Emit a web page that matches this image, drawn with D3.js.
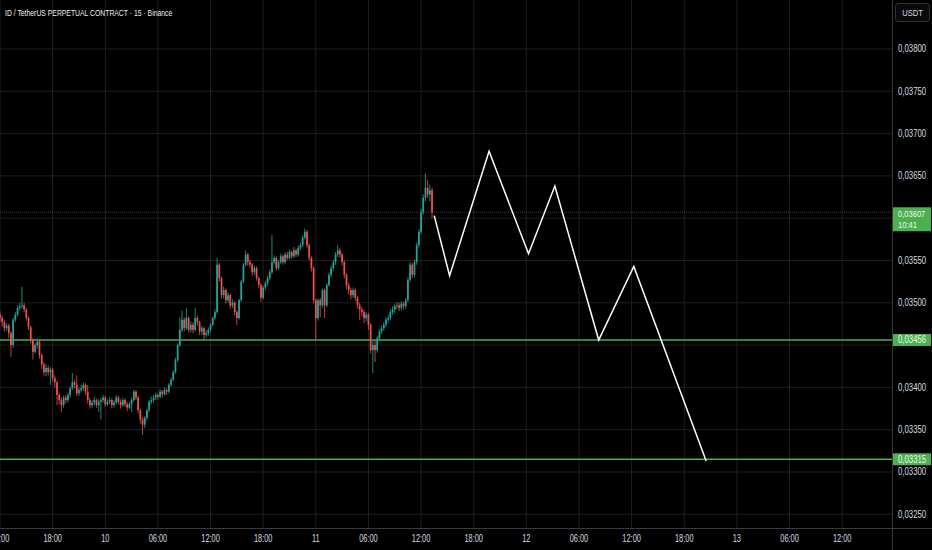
<!DOCTYPE html>
<html>
<head>
<meta charset="utf-8">
<script src="https://cdn.jsdelivr.net/npm/d3@7"></script>
<style>
  html, body { margin: 0; padding: 0; background: #000; overflow: hidden; }
  text { font-family: "Liberation Sans", Arial, sans-serif; }
</style>
</head>
<body>
<script>
var width = 932;
var height = 550;
var plotRight = 892;
var plotBottom = 528;

// prices are in units of 0.00001 USDT (3607 = 0.03607)
var title = "ID / TetherUS PERPETUAL CONTRACT \u00b7 15 \u00b7 Binance";
var firstBar = "2024-01-09 12:00";
var barMinutes = 15;
var firstOpen = 3486;

var closes = [
  3482, 3477, 3470, 3473, 3464, 3450, 3480, 3486, 3494, 3496,
  3497, 3492, 3482, 3471, 3456, 3442, 3450, 3454, 3438, 3427,
  3418, 3423, 3418, 3421, 3411, 3406, 3391, 3385, 3379, 3388,
  3385, 3391, 3399, 3406, 3403, 3393, 3397, 3399, 3403, 3395,
  3385, 3379, 3382, 3385, 3379, 3383, 3385, 3388, 3380, 3383,
  3385, 3379, 3382, 3388, 3383, 3379, 3385, 3380, 3376, 3380,
  3385, 3395, 3388, 3373, 3362, 3356, 3364, 3373, 3383, 3385,
  3388, 3391, 3389, 3395, 3392, 3397, 3395, 3403, 3409, 3418,
  3432, 3450, 3468, 3480, 3470, 3482, 3468, 3474, 3468, 3482,
  3477, 3466, 3470, 3462, 3464, 3468, 3474, 3482, 3489, 3545,
  3529, 3509, 3515, 3503, 3509, 3497, 3500, 3489, 3482, 3503,
  3525, 3545, 3557, 3548, 3545, 3536, 3541, 3529, 3521, 3506,
  3518, 3523, 3529, 3536, 3548, 3553, 3541, 3548, 3555, 3548,
  3557, 3553, 3560, 3555, 3562, 3557, 3565, 3568, 3577, 3584,
  3568, 3553, 3541, 3503, 3482, 3503, 3497, 3515, 3497, 3521,
  3533, 3541, 3548, 3557, 3562, 3557, 3548, 3533, 3521, 3515,
  3509, 3515, 3506, 3497, 3492, 3489, 3482, 3486, 3474, 3444,
  3450, 3444, 3458, 3466, 3470, 3474, 3480, 3482, 3489, 3492,
  3496, 3497, 3494, 3499, 3496, 3503, 3527, 3545, 3533, 3548,
  3568, 3584, 3607, 3624, 3636, 3628, 3633, 3607
];

var highs = [
  3490, 3485, 3480, 3476, 3475, 3466, 3482, 3489, 3497, 3500,
  3519, 3500, 3494, 3484, 3473, 3458, 3452, 3458, 3456, 3440,
  3430, 3428, 3426, 3424, 3423, 3414, 3408, 3394, 3388, 3390,
  3391, 3394, 3401, 3417, 3409, 3414, 3400, 3403, 3406, 3405,
  3403, 3388, 3385, 3389, 3387, 3386, 3388, 3391, 3390, 3386,
  3389, 3387, 3385, 3391, 3390, 3386, 3388, 3387, 3383, 3383,
  3388, 3397, 3397, 3390, 3375, 3365, 3366, 3375, 3385, 3389,
  3391, 3394, 3393, 3398, 3397, 3400, 3399, 3405, 3412, 3420,
  3435, 3452, 3483, 3491, 3483, 3494, 3484, 3478, 3477, 3494,
  3485, 3479, 3473, 3472, 3468, 3471, 3476, 3484, 3492, 3553,
  3547, 3531, 3519, 3517, 3512, 3511, 3504, 3502, 3491, 3505,
  3527, 3547, 3562, 3559, 3551, 3547, 3544, 3543, 3531, 3523,
  3520, 3526, 3532, 3539, 3580, 3556, 3555, 3551, 3558, 3557,
  3560, 3560, 3563, 3562, 3566, 3564, 3568, 3571, 3580, 3588,
  3586, 3570, 3555, 3543, 3505, 3505, 3506, 3517, 3517, 3523,
  3536, 3544, 3551, 3560, 3568, 3565, 3559, 3550, 3535, 3524,
  3518, 3518, 3517, 3508, 3500, 3495, 3492, 3489, 3488, 3476,
  3456, 3455, 3461, 3469, 3473, 3477, 3483, 3486, 3492, 3496,
  3499, 3501, 3500, 3502, 3501, 3506, 3530, 3548, 3547, 3551,
  3571, 3587, 3611, 3628, 3653, 3645, 3640, 3636
];

var lows = [
  3478, 3472, 3466, 3467, 3458, 3436, 3447, 3477, 3484, 3491,
  3493, 3489, 3479, 3468, 3452, 3433, 3440, 3446, 3434, 3422,
  3414, 3413, 3414, 3403, 3407, 3400, 3379, 3380, 3371, 3376,
  3381, 3382, 3388, 3397, 3399, 3390, 3390, 3394, 3396, 3391,
  3381, 3375, 3376, 3379, 3376, 3371, 3362, 3382, 3377, 3378,
  3380, 3375, 3376, 3380, 3380, 3375, 3377, 3377, 3372, 3374,
  3371, 3383, 3385, 3369, 3357, 3344, 3352, 3361, 3371, 3380,
  3382, 3385, 3385, 3387, 3388, 3390, 3391, 3393, 3401, 3407,
  3416, 3430, 3448, 3465, 3466, 3468, 3465, 3465, 3464, 3466,
  3473, 3462, 3462, 3456, 3459, 3461, 3465, 3472, 3480, 3487,
  3525, 3505, 3505, 3499, 3500, 3493, 3494, 3485, 3474, 3480,
  3501, 3523, 3543, 3544, 3541, 3532, 3533, 3526, 3517, 3501,
  3504, 3515, 3520, 3527, 3534, 3545, 3538, 3539, 3546, 3545,
  3546, 3550, 3551, 3552, 3553, 3554, 3555, 3562, 3566, 3575,
  3565, 3550, 3537, 3499, 3456, 3479, 3483, 3494, 3482, 3495,
  3519, 3530, 3538, 3545, 3554, 3553, 3544, 3529, 3516, 3510,
  3504, 3506, 3502, 3493, 3480, 3484, 3476, 3478, 3468, 3440,
  3417, 3430, 3441, 3455, 3463, 3467, 3471, 3476, 3479, 3486,
  3488, 3492, 3490, 3491, 3492, 3493, 3501, 3524, 3529, 3530,
  3545, 3565, 3581, 3604, 3620, 3624, 3620, 3600
];

// drawn projection path
var pathTimes = ["2024-01-11 13:30", "2024-01-11 15:15", "2024-01-11 19:45", "2024-01-12 00:15",
                 "2024-01-12 03:15", "2024-01-12 08:15", "2024-01-12 12:15", "2024-01-12 20:30"];
var pathPrices = [3603, 3532, 3679, 3558, 3638, 3456, 3543, 3313];

var levels = [3456, 3315];
var lastPrice = 3607;
var countdown = "10:41";
var priceTicks = [3250, 3300, 3350, 3400, 3450, 3500, 3550, 3600, 3650, 3700, 3750, 3800];

var upColor = "#26a69a";
var downColor = "#ef5350";
var levelColor = "#4caf50";
var gridColor = "#1e1e1e";
var textColor = "#d8dbe2";

var parseTime = d3.timeParse("%Y-%m-%d %H:%M");
var fmtPrice = function(v) { return d3.format(".5f")(v / 1e5).replace(".", ","); };
var fmtTime = function(d) { return d.getHours() === 0 ? d3.timeFormat("%-d")(d) : d3.timeFormat("%H:%M")(d); };

var x = d3.scaleTime()
  .domain([parseTime("2024-01-09 12:00"), parseTime("2024-01-13 17:41")])
  .range([0, plotRight]);
var y = d3.scaleLinear()
  .domain([3233.8, 3857.9])
  .range([plotBottom, 0]);

var svg = d3.select("body")
            .append("svg")
            .attr("width", width)
            .attr("height", height);

svg.append("rect").attr("width", width).attr("height", height).attr("fill", "#000");

// squeezed text, like the reference screenshot
var label = function(g, tx, ty, str, anchor, size, sx) {
  return g.append("text")
    .attr("transform", "translate(" + tx + "," + ty + ") scale(" + sx + ",1)")
    .attr("text-anchor", anchor)
    .attr("dominant-baseline", "central")
    .attr("font-size", size)
    .attr("fill", textColor)
    .text(str);
};

var plot = svg.append("g");
var timeTicks = x.ticks(d3.timeHour.every(6));

plot.selectAll(".vgrid").data(timeTicks).enter().append("line")
  .attr("x1", function(d) { return x(d); })
  .attr("x2", function(d) { return x(d); })
  .attr("y1", 0).attr("y2", plotBottom)
  .attr("stroke", gridColor);

plot.selectAll(".hgrid").data(priceTicks).enter().append("line")
  .attr("x1", 0).attr("x2", plotRight)
  .attr("y1", function(d) { return y(d); })
  .attr("y2", function(d) { return y(d); })
  .attr("stroke", gridColor);

// last price line
plot.append("line")
  .attr("x1", 0).attr("x2", plotRight)
  .attr("y1", y(lastPrice)).attr("y2", y(lastPrice))
  .attr("stroke", "#3a3a3a")
  .attr("stroke-dasharray", "1,1");

levels.forEach(function(lv) {
  plot.append("line")
    .attr("x1", 0).attr("x2", plotRight)
    .attr("y1", y(lv)).attr("y2", y(lv))
    .attr("stroke", levelColor)
    .attr("stroke-width", 1.5);
});

// candles
var start = parseTime(firstBar);
var bars = closes.map(function(c, i) {
  return {
    t: d3.timeMinute.offset(start, i * barMinutes),
    o: i === 0 ? firstOpen : closes[i - 1],
    h: highs[i], l: lows[i], c: c
  };
});

var candle = plot.selectAll(".bar").data(bars).enter().append("g");
candle.append("line")
  .attr("x1", function(d) { return x(d.t); })
  .attr("x2", function(d) { return x(d.t); })
  .attr("y1", function(d) { return y(d.h); })
  .attr("y2", function(d) { return y(d.l); })
  .attr("stroke", function(d) { return d.c >= d.o ? upColor : downColor; })
  .attr("stroke-width", 0.8);
candle.append("rect")
  .attr("x", function(d) { return x(d.t) - 0.85; })
  .attr("width", 1.7)
  .attr("y", function(d) { return y(Math.max(d.o, d.c)); })
  .attr("height", function(d) { return Math.max(0.8, Math.abs(y(d.o) - y(d.c))); })
  .attr("fill", function(d) { return d.c >= d.o ? upColor : downColor; });

// projection
var line = d3.line()
  .x(function(d) { return x(d.t); })
  .y(function(d) { return y(d.p); });
plot.append("path")
  .datum(pathTimes.map(function(t, i) { return { t: parseTime(t), p: pathPrices[i] }; }))
  .attr("d", line)
  .attr("fill", "none")
  .attr("stroke", "#ffffff")
  .attr("stroke-width", 1.5)
  .attr("stroke-linejoin", "miter");

// axes frame
svg.append("line").attr("x1", plotRight + 0.5).attr("x2", plotRight + 0.5)
  .attr("y1", 0).attr("y2", height).attr("stroke", "#3a3a3a");
svg.append("line").attr("x1", 0).attr("x2", width)
  .attr("y1", plotBottom + 0.5).attr("y2", plotBottom + 0.5).attr("stroke", "#3a3a3a");

// time axis labels
timeTicks.forEach(function(t) {
  label(svg, x(t), 539, fmtTime(t), "middle", 10, 0.74);
});

// price axis labels (those under a tag are hidden by it)
var tagged = levels.concat([lastPrice]);
priceTicks.forEach(function(p) {
  var covered = tagged.some(function(lv) { return Math.abs(y(lv) - y(p)) < 9; });
  if (!covered) label(svg, 898, y(p), fmtPrice(p), "start", 10, 0.78);
});

// level tags
levels.forEach(function(lv) {
  svg.append("rect")
    .attr("x", plotRight + 1).attr("y", y(lv) - 6)
    .attr("width", 38).attr("height", 12)
    .attr("fill", levelColor);
  label(svg, 898, y(lv), fmtPrice(lv), "start", 10, 0.78).attr("fill", "#eef7ee");
});

// last price tag
svg.append("rect")
  .attr("x", plotRight + 1).attr("y", y(lastPrice) - 5)
  .attr("width", 38).attr("height", 24)
  .attr("fill", levelColor);
label(svg, 898, y(lastPrice) + 1.5, fmtPrice(lastPrice), "start", 9, 0.84).attr("fill", "#eef7ee");
label(svg, 898, y(lastPrice) + 12.5, countdown, "start", 9, 0.84).attr("fill", "#eef7ee");

// currency box
svg.append("rect")
  .attr("x", 895.5).attr("y", 3.5)
  .attr("width", 34).attr("height", 18).attr("rx", 3)
  .attr("fill", "#0a0a0a").attr("stroke", "#333");
label(svg, 912.5, 13, "USDT", "middle", 9.5, 0.8);

// title
label(svg, 5, 13, title, "start", 9.5, 0.72).attr("fill", "#eeeeee");
</script>
</body>
</html>
